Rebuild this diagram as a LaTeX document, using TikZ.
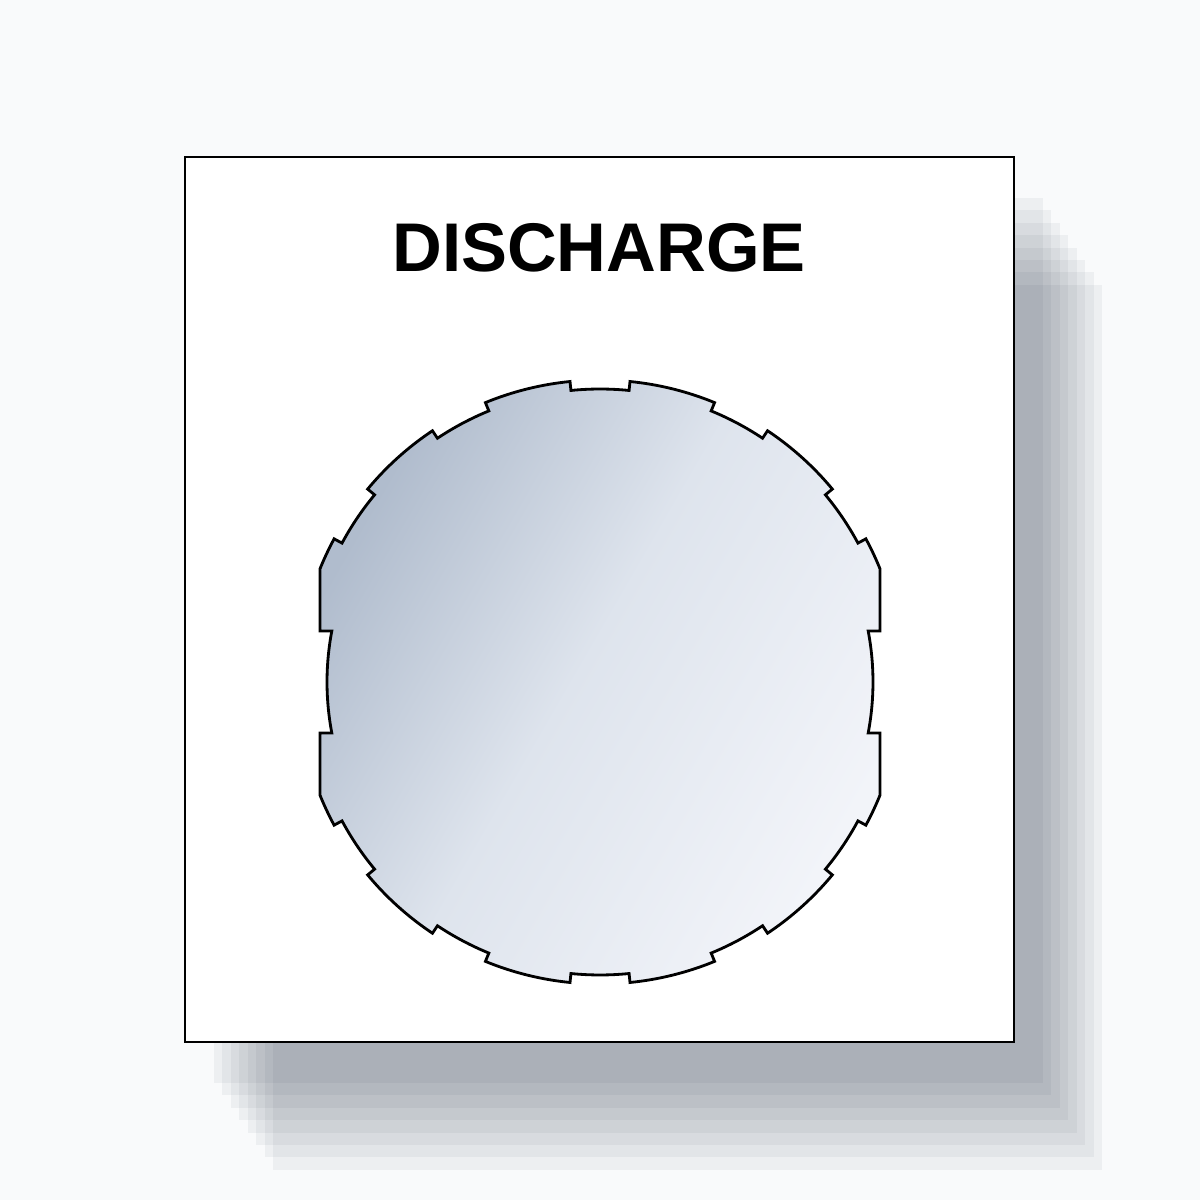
\documentclass[tikz,border=0pt]{standalone}
\usepackage{fontspec}
\newfontfamily\labelfont{Liberation Sans}
\definecolor{bgcol}{RGB}{249,250,251}
\definecolor{shadowcol}{RGB}{15,30,52}
\definecolor{discdark}{RGB}{176,188,205}
\definecolor{discmid}{RGB}{222,228,237}
\definecolor{disclight}{RGB}{242,244,249}
\pgfdeclarehorizontalshading{discshade}{100bp}{color(0bp)=(discdark); color(25bp)=(discdark); color(48bp)=(discmid); color(75bp)=(disclight); color(100bp)=(disclight)}
\begin{document}
\begin{tikzpicture}[
    panel/.style={draw=black, fill=white, line width=0.8pt},
    shadowlayer/.style={fill=shadowcol, fill opacity=0.048},
    disc/.style={draw=black, line width=0.8pt, shading=discshade, shading angle=-30}
  ]
  \useasboundingbox (0,0) rectangle (12,12);
  \fill[bgcol] (0,0) rectangle (12,12);

  % stepped shadow
  \foreach \k in {0,...,7}
    \fill[shadowlayer, shift={(0.29+0.0843*\k,-0.41-0.124*\k)}] (1.85,1.58) rectangle (10.14,10.43);
  \draw[panel] (1.85,1.58) rectangle (10.14,10.43);

  \node (title) at (5.99,9.52) {\labelfont\bfseries\fontsize{19.6}{24}\selectfont DISCHARGE};

  % notched window
  \begin{scope}[shift={(6,5.18)}]
    \shade[disc] (2.80,0.51) -- (22:3.02)
      arc[start angle=22, end angle=28.3, radius=3.02]
      \foreach \c in {34,62,90,118} {
        -- (\c-5.7:2.93) arc[start angle=\c-5.7, delta angle=11.4, radius=2.93]
        -- (\c+5.7:3.02) arc[start angle=\c+5.7, delta angle=16.6, radius=3.02]
      }
      -- (140.3:2.93) arc[start angle=140.3, delta angle=11.4, radius=2.93]
      -- (151.7:3.02) arc[start angle=151.7, end angle=158, radius=3.02]
      -- (-2.80,0.51) -- (169.23:2.73) arc[start angle=169.23, end angle=190.77, radius=2.73]
      -- (-2.80,-0.51) -- (202:3.02)
      arc[start angle=202, end angle=208.3, radius=3.02]
      \foreach \c in {214,242,270,298} {
        -- (\c-5.7:2.93) arc[start angle=\c-5.7, delta angle=11.4, radius=2.93]
        -- (\c+5.7:3.02) arc[start angle=\c+5.7, delta angle=16.6, radius=3.02]
      }
      -- (320.3:2.93) arc[start angle=320.3, delta angle=11.4, radius=2.93]
      -- (331.7:3.02) arc[start angle=331.7, end angle=338, radius=3.02]
      -- (2.80,-0.51) -- (-10.77:2.73) arc[start angle=-10.77, end angle=10.77, radius=2.73]
      -- cycle;
  \end{scope}
\end{tikzpicture}
\end{document}
